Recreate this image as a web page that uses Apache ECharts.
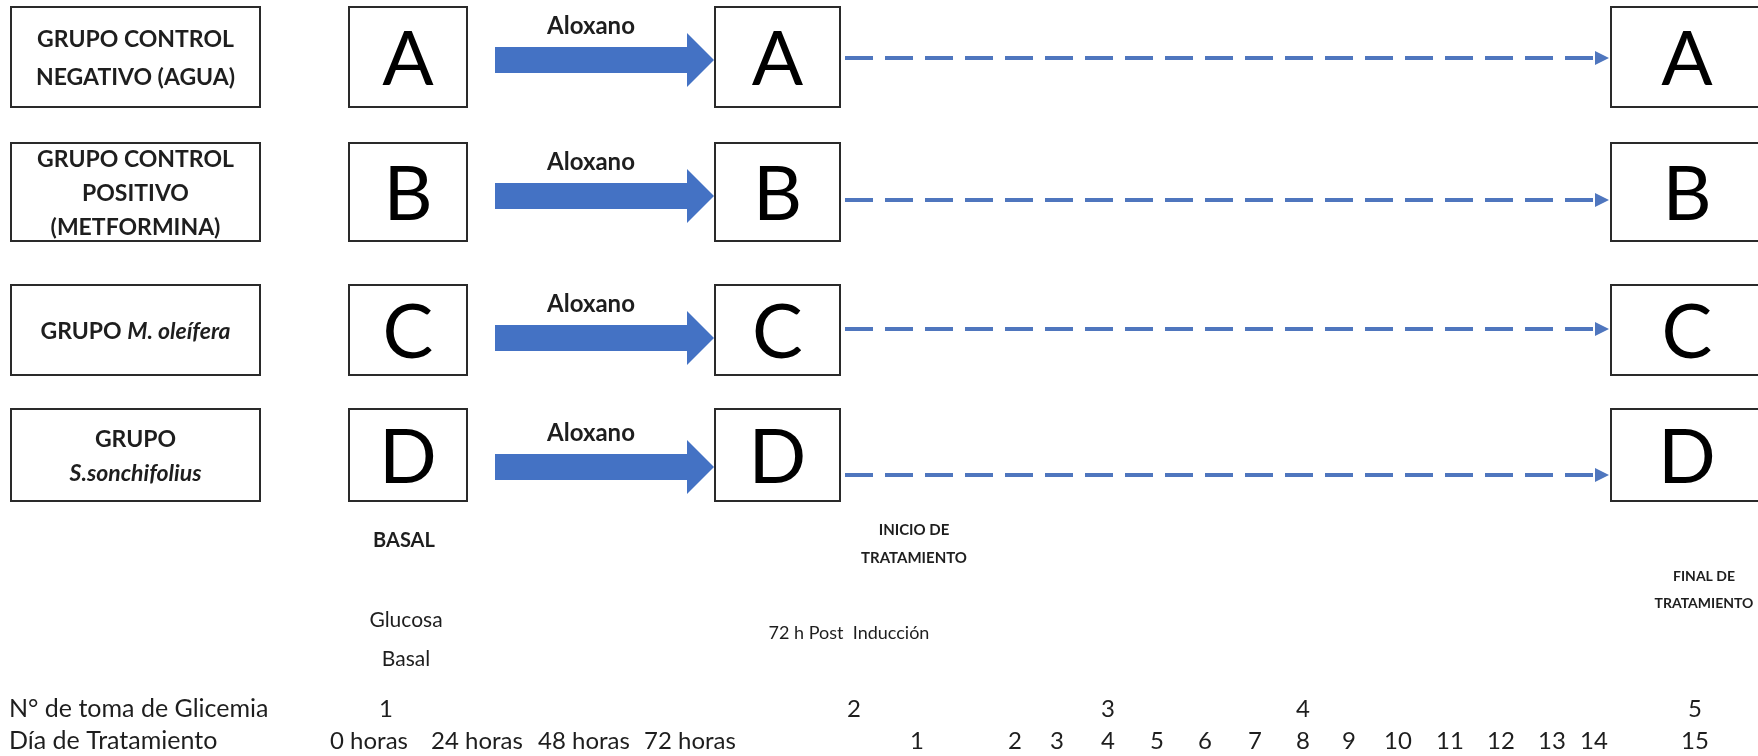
<!DOCTYPE html>
<html><head><meta charset="utf-8">
<script src="https://cdn.jsdelivr.net/npm/echarts@6/dist/echarts.min.js"></script>
<style>html,body{margin:0;padding:0;background:#fff}#c{width:1758px;height:756px}</style>
</head><body><div id="c"></div>
<script>
// ---------------- data (texts of the diagram) ----------------
const groupNames = [
  ['GRUPO CONTROL', 'NEGATIVO (AGUA)'],
  ['GRUPO CONTROL', 'POSITIVO', '(METFORMINA)'],
  ['GRUPO {i|M. oleífera}'],
  ['GRUPO', '{i|S.sonchifolius}']
];
const groupLetters = ['A', 'B', 'C', 'D'];
const inductionLabel = 'Aloxano';
const stageLabels = ['BASAL', 'INICIO DE\nTRATAMIENTO', 'FINAL DE\nTRATAMIENTO'];
const stageNotes = ['Glucosa\nBasal', '72 h Post  Inducción'];
const timelineRowTitles = ['N° de toma de Glicemia', 'Día de Tratamiento'];
const glicemiaLabels = ['1', '2', '3', '4', '5'];
const dayLabels = ['0 horas', '24 horas', '48 horas', '72 horas', '1', '2', '3', '4', '5', '6', '7', '8', '9', '10', '11', '12', '13', '14', '15'];

// ---------------- layout (axis units = page pixels) ----------------
const L = {
  labelBox: [11, 260],
  cols: [[349, 467], [715, 840], [1611, 1800]],
  rows: [
    { top: 7,   bottom: 107, arrowY: 60,  dashY: 58 },
    { top: 143, bottom: 241, arrowY: 196, dashY: 200 },
    { top: 285, bottom: 375, arrowY: 338, dashY: 329 },
    { top: 409, bottom: 501, arrowY: 467, dashY: 475 }
  ],
  groupLineH: [38, 34, 34, 34],
  arrow: { x0: 495, xHead: 687, x1: 714, shaftHalf: 13, headHalf: 27 },
  dash: { x0: 845, x1: 1609 },
  stagePos: [[404, 541], [914, 544], [1704, 590]],
  notePos: [[406, 640], [849, 633]],
  titleX: 9,
  rowY: [709, 741],
  glicemiaX: [386, 854, 1108, 1303, 1695],
  dayX: [369, 477, 584, 690, 917, 1015, 1057, 1108, 1157, 1205, 1255, 1303, 1349, 1398, 1450, 1501, 1552, 1594, 1695]
};

const FONT = 'Lato, "Open Sans", sans-serif';
const TXT = '#1e1e1e';
const BLUE = '#4472C4';
const DASH = '#4F76BE';

// ---------------- build mark lists ----------------
const labelBoxes = groupNames.map((_, r) => [L.labelBox[0], L.rows[r].top, L.labelBox[1], L.rows[r].bottom]);
const letterBoxes = [];
groupLetters.forEach((_, r) => L.cols.forEach(c => letterBoxes.push([c[0], L.rows[r].top, c[1], L.rows[r].bottom])));

const texts = [];
groupNames.forEach((lines, r) => {
  const row = L.rows[r];
  texts.push({ x: (L.labelBox[0] + L.labelBox[1]) / 2, y: (row.top + row.bottom) / 2 + 2,
    text: lines.join('\n'), font: 'bold 23px ' + FONT, lh: L.groupLineH[r], align: 'center' });
});
groupLetters.forEach((letter, r) => {
  const row = L.rows[r];
  L.cols.forEach((c, ci) => {
    const cx = ci === 2 ? c[0] + 76 : (c[0] + c[1]) / 2;
    texts.push({ x: cx, y: (row.top + row.bottom) / 2 + 3, text: letter, font: '76px ' + FONT, lh: 80, align: 'center', fill: '#000' });
  });
  texts.push({ x: 591, y: row.arrowY - 34, text: inductionLabel, font: 'bold 24px ' + FONT, lh: 26, align: 'center' });
});
texts.push({ x: L.stagePos[0][0], y: L.stagePos[0][1], text: stageLabels[0], font: 'bold 20px ' + FONT, lh: 24, align: 'center' });
texts.push({ x: L.stagePos[1][0], y: L.stagePos[1][1], text: stageLabels[1], font: 'bold 15px ' + FONT, lh: 28, align: 'center' });
texts.push({ x: L.stagePos[2][0], y: L.stagePos[2][1], text: stageLabels[2], font: 'bold 14px ' + FONT, lh: 27, align: 'center' });
texts.push({ x: L.notePos[0][0], y: L.notePos[0][1], text: stageNotes[0], font: '21px ' + FONT, lh: 39, align: 'center' });
texts.push({ x: L.notePos[1][0], y: L.notePos[1][1], text: stageNotes[1], font: '18px ' + FONT, lh: 20, align: 'center' });
timelineRowTitles.forEach((t, i) => texts.push({ x: L.titleX, y: L.rowY[i], text: t, font: '25px ' + FONT, lh: 28, align: 'left' }));
glicemiaLabels.forEach((t, i) => texts.push({ x: L.glicemiaX[i], y: L.rowY[0], text: t, font: '24px ' + FONT, lh: 28, align: 'center' }));
dayLabels.forEach((t, i) => texts.push({ x: L.dayX[i], y: L.rowY[1], text: t, font: '24px ' + FONT, lh: 28, align: 'center' }));

// ---------------- chart ----------------
const chart = echarts.init(document.getElementById('c'), null, { renderer: 'canvas' });

function rectItem(params, api) {
  const p0 = api.coord([api.value(0), api.value(1)]);
  const p1 = api.coord([api.value(2), api.value(3)]);
  return { type: 'rect', shape: { x: p0[0], y: p0[1], width: p1[0] - p0[0], height: p1[1] - p0[1] },
    style: { fill: '#fff', stroke: '#2a2a2a', lineWidth: 2 } };
}

chart.setOption({
  animation: false,
  backgroundColor: '#fff',
  grid: { left: 0, right: 0, top: 0, bottom: 0 },
  xAxis: { type: 'value', min: 0, max: 1758, show: false },
  yAxis: { type: 'value', min: 0, max: 756, inverse: true, show: false },
  series: [
    { type: 'custom', name: 'labelBoxes', clip: false, data: labelBoxes, renderItem: rectItem },
    { type: 'custom', name: 'letterBoxes', clip: false, data: letterBoxes, renderItem: rectItem },
    {
      type: 'custom', name: 'aloxanoArrows', clip: false,
      data: L.rows.map(r => [r.arrowY]),
      renderItem(params, api) {
        const y = api.value(0), a = L.arrow;
        const pts = [[a.x0, y - a.shaftHalf], [a.xHead, y - a.shaftHalf], [a.xHead, y - a.headHalf], [a.x1, y],
          [a.xHead, y + a.headHalf], [a.xHead, y + a.shaftHalf], [a.x0, y + a.shaftHalf]].map(p => api.coord(p));
        return { type: 'polygon', shape: { points: pts }, style: { fill: BLUE } };
      }
    },
    {
      type: 'custom', name: 'treatmentLines', clip: false,
      data: L.rows.map(r => [r.dashY]),
      renderItem(params, api) {
        const y = api.value(0), d = L.dash;
        const s = api.coord([d.x0, y]), e = api.coord([d.x1 - 12, y]), tip = api.coord([d.x1, y]);
        return { type: 'group', children: [
          { type: 'line', shape: { x1: s[0], y1: s[1], x2: e[0], y2: e[1] },
            style: { stroke: DASH, lineWidth: 4, lineDash: [28, 12] } },
          { type: 'polygon', shape: { points: [[tip[0], tip[1]], [tip[0] - 14, tip[1] - 7], [tip[0] - 14, tip[1] + 7]] },
            style: { fill: DASH } }
        ] };
      }
    },
    {
      type: 'custom', name: 'texts', clip: false,
      data: texts.map((t, i) => [t.x, t.y, i]),
      renderItem(params, api) {
        const t = texts[api.value(2)];
        const p = api.coord([api.value(0), api.value(1)]);
        return { type: 'text', x: p[0], y: p[1], style: {
          text: t.text, font: t.font, fill: t.fill || TXT, align: t.align, verticalAlign: 'middle',
          lineHeight: t.lh,
          rich: { i: { fontFamily: FONT, fontSize: 23, fontWeight: 'bold', fontStyle: 'italic', fill: TXT, lineHeight: t.lh } }
        } };
      }
    }
  ]
});
</script></body></html>
